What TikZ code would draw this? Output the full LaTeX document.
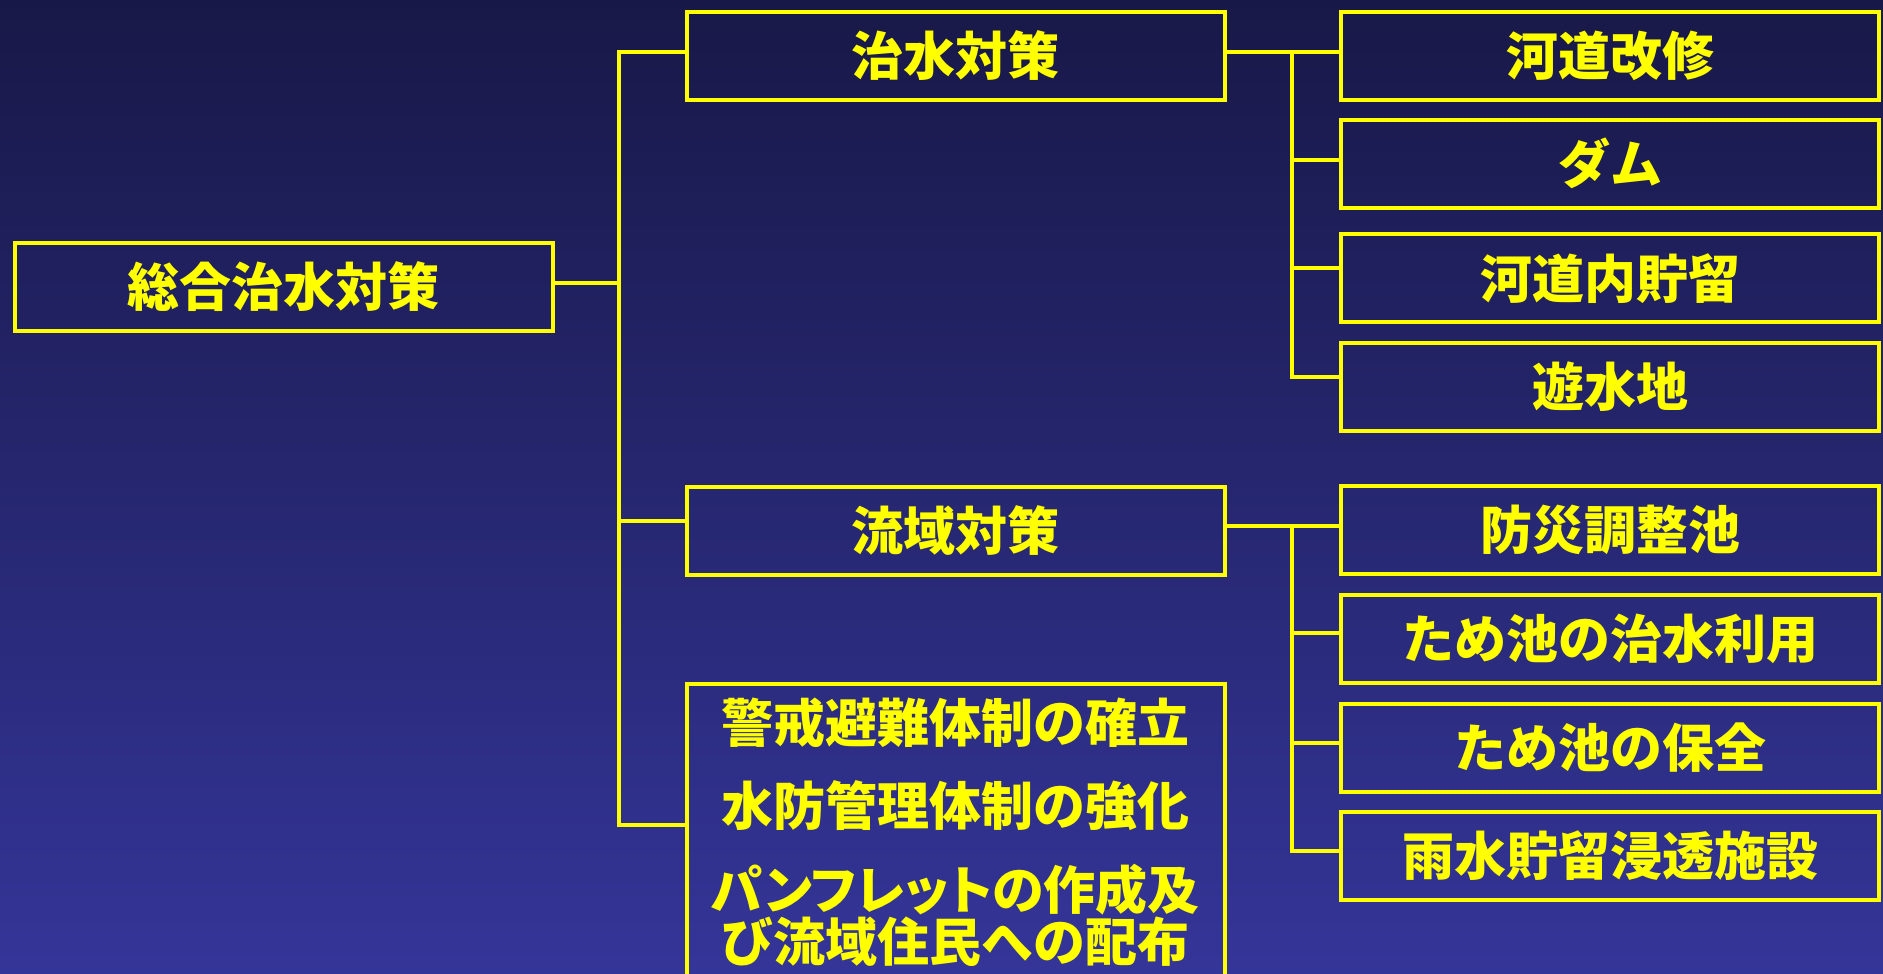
\documentclass[tikz,border=0pt]{standalone}
\usepackage{fontspec}
\setmainfont{Noto Sans CJK JP}
\definecolor{ylw}{RGB}{255,255,0}
\definecolor{bgtop}{RGB}{24,24,72}
\definecolor{bgbot}{RGB}{52,53,152}
\begin{document}
\begin{tikzpicture}[x=1pt,y=-1pt,
  box/.style={draw=ylw, line width=4pt, rectangle, inner sep=0pt,
    minimum width=538pt, minimum height=88pt, text=ylw,
    font=\fontsize{52}{52}\selectfont\bfseries},
  lbl/.style={text=ylw, inner sep=0pt, align=center,
    font=\fontsize{52}{52}\selectfont\bfseries},
  conn/.style={draw=ylw, line width=4pt, line cap=rect}]
\shade[top color=bgtop, bottom color=bgbot] (0,0) rectangle (1883,974);
\useasboundingbox (0,0) rectangle (1883,974);

% root
\node[box] (main) at (283.5,287) {総合治水対策};

% middle level
\node[box] (m1) at (955.5,56) {治水対策};
\node[box] (m2) at (955.5,531) {流域対策};
\node[box, minimum height=326pt] (m3) at (955.5,846.7) {};
\node[lbl] (t3a) at (955.5,723) {警戒避難体制の確立};
\node[lbl] (t3b) at (955.5,805.5) {水防管理体制の強化};
\node[lbl] (t3c) at (955.5,915) {{\addfontfeature{RawFeature=+palt}パンフレットの作成及}\\び流域住民への配布};

% right level
\node[box] (r1) at (1610,56) {河道改修};
\node[box] (r2) at (1610,163.7) {ダム};
\node[box] (r3) at (1610,278.3) {河道内貯留};
\node[box] (r4) at (1610,387) {遊水地};
\node[box] (r5) at (1610,530.3) {防災調整池};
\node[box] (r6) at (1610,638.8) {ため池の治水利用};
\node[box] (r7) at (1610,747.5) {ため池の保全};
\node[box] (r8) at (1610,855.8) {雨水貯留浸透施設};

% junction coordinates
\coordinate (a0) at (619,283);
\coordinate (a1) at (619,51.7);
\coordinate (a2) at (619,521);
\coordinate (a3) at (619,825);
\coordinate (b0) at (1292,51.7);
\coordinate (b1) at (1292,160);
\coordinate (b2) at (1292,268.3);
\coordinate (b3) at (1292,376.7);
\coordinate (c0) at (1292,526);
\coordinate (c1) at (1292,633.3);
\coordinate (c2) at (1292,743.3);
\coordinate (c3) at (1292,850.7);

% connectors root -> middle
\draw[conn] (main.east |- a0) -- (a0);
\draw[conn] (a1) -- (a3);
\draw[conn] (a1) -- (a1 -| m1.west);
\draw[conn] (a2) -- (a2 -| m2.west);
\draw[conn] (a3) -- (a3 -| m3.west);

% connectors m1 -> right
\draw[conn] (m1.east |- b0) -- (b0);
\draw[conn] (b0) -- (b3);
\draw[conn] (b0) -- (b0 -| r1.west);
\draw[conn] (b1) -- (b1 -| r2.west);
\draw[conn] (b2) -- (b2 -| r3.west);
\draw[conn] (b3) -- (b3 -| r4.west);

% connectors m2 -> right
\draw[conn] (m2.east |- c0) -- (c0);
\draw[conn] (c0) -- (c3);
\draw[conn] (c0) -- (c0 -| r5.west);
\draw[conn] (c1) -- (c1 -| r6.west);
\draw[conn] (c2) -- (c2 -| r7.west);
\draw[conn] (c3) -- (c3 -| r8.west);
\end{tikzpicture}
\end{document}
